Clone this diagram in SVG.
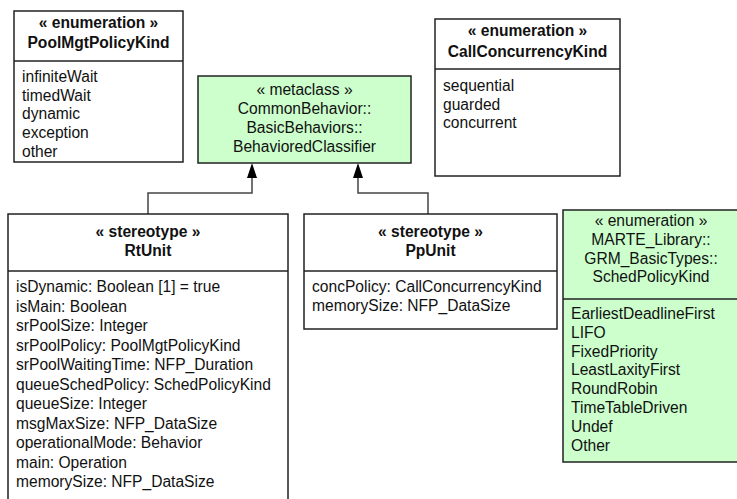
<svg xmlns="http://www.w3.org/2000/svg" width="737" height="499" viewBox="0 0 737 499">
<style>
text{font-family:"Liberation Sans",Arial,sans-serif;font-size:15.6px;fill:#111}
.b{font-weight:bold}
.c{text-anchor:middle}
.box{fill:#fff;stroke:#222;stroke-width:1.5}
.g{fill:#ccffcc}
.div{stroke:#222;stroke-width:1.5}
.edge{fill:none;stroke:#444;stroke-width:1.5}
.head{fill:#000}
</style>
<g id="connectors">
<path class="edge" d="M148 214 V193 H252 V170"/>
<path class="edge" d="M428 214 V193 H358 V170"/>
<path class="head" d="M252 163 L257 178 L247 178 Z"/>
<path class="head" d="M358 163 L363 178 L353 178 Z"/>
</g>
<g id="PoolMgtPolicyKind">
<rect class="box" x="14" y="11" width="169" height="151"/>
<line class="div" x1="14" y1="61" x2="183" y2="61"/>
<text class="b c" x="98.5" y="28">« enumeration »</text>
<text class="b c" x="98.5" y="48">PoolMgtPolicyKind</text>
<text x="22" y="82">infiniteWait</text>
<text x="22" y="100.7">timedWait</text>
<text x="22" y="119.4">dynamic</text>
<text x="22" y="138.1">exception</text>
<text x="22" y="156.8">other</text>
</g>
<g id="BehavioredClassifier">
<rect class="box g" x="198" y="76" width="213" height="87"/>
<text class="c" x="304.5" y="95">« metaclass »</text>
<text class="c" x="304.5" y="114">CommonBehavior::</text>
<text class="c" x="304.5" y="133">BasicBehaviors::</text>
<text class="c" x="304.5" y="152">BehavioredClassifier</text>
</g>
<g id="CallConcurrencyKind">
<rect class="box" x="435" y="19" width="185" height="157"/>
<line class="div" x1="435" y1="69" x2="620" y2="69"/>
<text class="b c" x="527.5" y="36">« enumeration »</text>
<text class="b c" x="527.5" y="57">CallConcurrencyKind</text>
<text x="443" y="91">sequential</text>
<text x="443" y="109.7">guarded</text>
<text x="443" y="128.4">concurrent</text>
</g>
<g id="RtUnit">
<rect class="box" x="8" y="214" width="280" height="300"/>
<line class="div" x1="8" y1="271" x2="288" y2="271"/>
<text class="b c" x="148" y="237">« stereotype »</text>
<text class="b c" x="148" y="256">RtUnit</text>
<text x="16" y="292">isDynamic: Boolean [1] = true</text>
<text x="16" y="311.5">isMain: Boolean</text>
<text x="16" y="331">srPoolSize: Integer</text>
<text x="16" y="350.5">srPoolPolicy: PoolMgtPolicyKind</text>
<text x="16" y="370">srPoolWaitingTime: NFP_Duration</text>
<text x="16" y="389.5">queueSchedPolicy: SchedPolicyKind</text>
<text x="16" y="409">queueSize: Integer</text>
<text x="16" y="428.5">msgMaxSize: NFP_DataSize</text>
<text x="16" y="448">operationalMode: Behavior</text>
<text x="16" y="467.5">main: Operation</text>
<text x="16" y="487">memorySize: NFP_DataSize</text>
</g>
<g id="PpUnit">
<rect class="box" x="304" y="214" width="253" height="115"/>
<line class="div" x1="304" y1="271" x2="557" y2="271"/>
<text class="b c" x="430.5" y="237">« stereotype »</text>
<text class="b c" x="430.5" y="256">PpUnit</text>
<text x="312" y="292">concPolicy: CallConcurrencyKind</text>
<text x="312" y="310.7">memorySize: NFP_DataSize</text>
</g>
<g id="SchedPolicyKind">
<rect class="box g" x="563" y="210" width="178" height="252"/>
<line class="div" x1="563" y1="299" x2="741" y2="299"/>
<text class="c" x="651" y="226">« enumeration »</text>
<text class="c" x="651" y="245">MARTE_Library::</text>
<text class="c" x="651" y="263.5">GRM_BasicTypes::</text>
<text class="c" x="651" y="282">SchedPolicyKind</text>
<text x="571" y="319">EarliestDeadlineFirst</text>
<text x="571" y="337.8">LIFO</text>
<text x="571" y="356.6">FixedPriority</text>
<text x="571" y="375.4">LeastLaxityFirst</text>
<text x="571" y="394.2">RoundRobin</text>
<text x="571" y="413">TimeTableDriven</text>
<text x="571" y="431.8">Undef</text>
<text x="571" y="450.6">Other</text>
</g>
</svg>
